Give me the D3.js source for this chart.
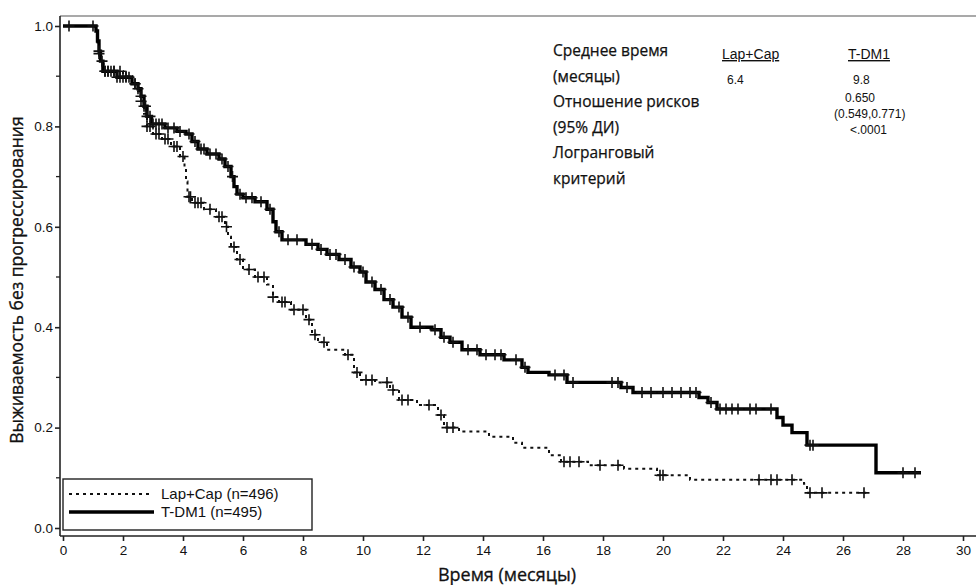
<!DOCTYPE html>
<html>
<head>
<meta charset="utf-8">
<script src="https://cdn.jsdelivr.net/npm/d3@7"></script>
<style>
  body { margin: 0; background: #fff; }
  text { fill: #111; }
</style>
</head>
<body>
<div id="chart"></div>
<script>
// Kaplan-Meier step data: [time (months), survival after the drop]
var tdm1Steps = [
  [0, 1.0], [1.1, 0.99], [1.15, 0.97], [1.2, 0.95], [1.25, 0.93], [1.33, 0.91],
  [1.8, 0.898], [2.3, 0.885], [2.5, 0.875], [2.6, 0.86], [2.7, 0.84], [2.8, 0.82],
  [2.95, 0.805], [3.4, 0.797], [3.8, 0.79], [4.1, 0.785], [4.3, 0.77], [4.5, 0.755],
  [4.8, 0.745], [5.2, 0.735], [5.4, 0.72], [5.6, 0.70], [5.7, 0.68], [5.8, 0.665],
  [6.0, 0.658], [6.4, 0.65], [6.8, 0.635], [7.0, 0.61], [7.1, 0.59], [7.3, 0.574],
  [8.1, 0.565], [8.5, 0.555], [8.8, 0.545], [9.2, 0.535], [9.6, 0.52], [9.9, 0.51],
  [10.1, 0.49], [10.4, 0.475], [10.7, 0.455], [11.0, 0.44], [11.3, 0.42], [11.6, 0.40],
  [12.3, 0.395], [12.6, 0.38], [12.9, 0.37], [13.3, 0.355], [13.9, 0.345], [14.7, 0.335],
  [15.3, 0.32], [15.5, 0.31], [16.2, 0.305], [16.8, 0.29], [18.6, 0.28], [19.0, 0.27],
  [21.2, 0.26], [21.5, 0.25], [21.8, 0.237], [23.8, 0.22], [24.0, 0.205], [24.3, 0.19],
  [24.8, 0.165], [27.1, 0.11]
];
var tdm1End = 28.6;
var tdm1Censor = [
  0.2, 1.0, 1.2, 1.3, 1.4, 1.5, 1.6, 1.7, 1.8, 1.9, 2.0, 2.1, 2.2, 2.4, 2.5, 2.6, 2.7,
  2.75, 2.8, 2.9, 3.0, 3.1, 3.2, 3.3, 3.5, 3.7, 3.9, 4.2, 4.4, 4.6, 4.7, 4.9, 5.1, 5.3,
  5.5, 5.65, 5.9, 6.1, 6.3, 6.6, 6.9, 7.2, 7.5, 7.8, 8.3, 8.6, 8.9, 9.1, 9.4, 9.7, 10.0,
  10.3, 10.6, 10.9, 11.2, 11.5, 11.9, 12.4, 12.7, 13.0, 13.5, 13.8, 14.1, 14.4, 14.6,
  15.1, 15.4, 16.4, 16.7, 17.0, 18.3, 18.5, 18.8, 19.3, 19.6, 20.0, 20.3, 20.6, 20.9,
  21.1, 21.6, 21.9, 22.1, 22.3, 22.5, 22.9, 23.1, 23.6, 24.9, 25.0, 28.0, 28.4
];

var lapSteps = [
  [0, 1.0], [1.1, 0.99], [1.15, 0.965], [1.2, 0.945], [1.25, 0.925], [1.35, 0.91],
  [2.0, 0.9], [2.3, 0.885], [2.5, 0.87], [2.6, 0.85], [2.7, 0.825], [2.8, 0.8],
  [3.0, 0.785], [3.3, 0.775], [3.6, 0.76], [3.9, 0.74], [4.05, 0.72], [4.1, 0.69],
  [4.15, 0.66], [4.3, 0.648], [4.7, 0.635], [5.1, 0.62], [5.4, 0.60], [5.5, 0.58],
  [5.6, 0.56], [5.8, 0.535], [6.0, 0.515], [6.4, 0.5], [6.8, 0.485], [7.0, 0.46],
  [7.2, 0.45], [7.6, 0.435], [8.1, 0.415], [8.3, 0.385], [8.5, 0.37], [8.8, 0.355],
  [9.4, 0.345], [9.7, 0.31], [9.9, 0.295], [10.4, 0.29], [10.9, 0.275], [11.2, 0.255],
  [11.8, 0.245], [12.5, 0.225], [12.7, 0.2], [13.2, 0.192], [14.2, 0.182], [15.0, 0.17],
  [15.3, 0.16], [16.2, 0.145], [16.6, 0.132], [17.5, 0.125], [18.7, 0.118], [19.8, 0.105],
  [20.9, 0.096], [24.7, 0.088], [24.8, 0.07]
];
var lapEnd = 26.8;
var lapCensor = [
  1.2, 1.4, 1.5, 1.7, 1.9, 2.1, 2.4, 2.6, 2.8, 2.9, 3.1, 3.2, 3.4, 3.5, 3.7, 3.8, 4.0,
  4.2, 4.25, 4.4, 4.5, 4.6, 4.9, 5.2, 5.3, 5.45, 5.7, 5.9, 6.2, 6.5, 6.7, 7.0, 7.3,
  7.4, 7.7, 8.0, 8.2, 8.4, 8.7, 9.5, 9.8, 10.1, 10.3, 10.8, 11.0, 11.3, 11.5, 12.2,
  12.6, 12.8, 13.0, 16.7, 16.9, 17.2, 17.9, 18.5, 19.9, 20.0, 23.2, 23.6, 23.8, 24.3,
  24.9, 25.3, 26.7
];

var xTicks = d3.range(0, 31, 2);
var yTicks = [0, 0.2, 0.4, 0.6, 0.8, 1.0];
var yMinorTicks = [0.1, 0.3, 0.5, 0.7, 0.9];

var legendLabels = ["Lap+Cap (n=496)", "T-DM1 (n=495)"];
var statRows = ["Среднее время", "(месяцы)", "Отношение рисков", "(95% ДИ)", "Логранговый", "критерий"];
var statHeads = ["Lap+Cap", "T-DM1"];
var lapStats = ["6.4"];
var tdm1Stats = ["9.8", "0.650", "(0.549,0.771)", "<.0001"];

var W = 976, H = 585;
var svg = d3.select("#chart").append("svg")
  .attr("width", W).attr("height", H)
  .style("font-family", "'Liberation Sans', Arial, sans-serif");

var x = d3.scaleLinear().domain([0, 30]).range([63, 963]);
var y = d3.scaleLinear().domain([0, 1]).range([528, 26]);
var axisY = 536, axisX = 60;

// frame top line
svg.append("line")
  .attr("x1", axisX).attr("x2", W).attr("y1", 16).attr("y2", 16)
  .attr("stroke", "#555").attr("stroke-width", 1.2);

// x axis
var xAxis = svg.append("g").attr("transform", "translate(0," + axisY + ")")
  .call(d3.axisBottom(x).tickValues(xTicks).tickSize(5).tickFormat(d3.format("d")));
xAxis.select(".domain").attr("d", "M" + axisX + ",0H" + W).attr("stroke", "#222").attr("stroke-width", 1.6);
xAxis.selectAll(".tick line").attr("stroke", "#222").attr("stroke-width", 1.6);
xAxis.selectAll(".tick text").attr("font-size", 13.5).attr("dy", "0.85em").attr("fill", "#111");

// y axis
var yAxis = svg.append("g").attr("transform", "translate(" + axisX + ",0)")
  .call(d3.axisLeft(y).tickValues(yTicks).tickSize(5).tickFormat(d3.format(".1f")));
yAxis.select(".domain").attr("d", "M0,16V" + axisY).attr("stroke", "#222").attr("stroke-width", 1.6);
yAxis.selectAll(".tick line").attr("stroke", "#222").attr("stroke-width", 1.6);
yAxis.selectAll(".tick text").attr("font-size", 13.5).attr("x", -7).attr("fill", "#111");
yAxis.selectAll(".minor").data(yMinorTicks).enter().append("line")
  .attr("x1", -4).attr("x2", 0)
  .attr("y1", function(d) { return y(d); }).attr("y2", function(d) { return y(d); })
  .attr("stroke", "#222").attr("stroke-width", 1.3);

// axis titles
svg.append("text").attr("x", 507).attr("y", 581).attr("text-anchor", "middle")
  .attr("font-family", "'Open Sans', sans-serif").attr("font-size", 18)
  .attr("stroke", "#111").attr("stroke-width", 0.3)
  .text("Время (месяцы)");
svg.append("text").attr("transform", "translate(23,280) rotate(-90)").attr("text-anchor", "middle")
  .attr("font-family", "'Open Sans', sans-serif").attr("font-size", 17.5)
  .attr("stroke", "#111").attr("stroke-width", 0.3)
  .text("Выживаемость без прогрессирования");

// curves
var line = d3.line()
  .x(function(d) { return x(d[0]); })
  .y(function(d) { return y(d[1]); })
  .curve(d3.curveStepAfter);

function withEnd(steps, end) {
  return steps.concat([[end, steps[steps.length - 1][1]]]);
}
function survAt(steps, t) {
  var i = d3.bisector(function(d) { return d[0]; }).right(steps, t) - 1;
  return steps[Math.max(i, 0)][1];
}

svg.append("path").datum(withEnd(lapSteps, lapEnd))
  .attr("d", line).attr("fill", "none")
  .attr("stroke", "#111").attr("stroke-width", 2).attr("stroke-dasharray", "3,4");

svg.append("path").datum(withEnd(tdm1Steps, tdm1End))
  .attr("d", line).attr("fill", "none")
  .attr("stroke", "#000").attr("stroke-width", 3.4);

function drawCensor(times, steps, cls) {
  var g = svg.append("g").attr("class", cls);
  g.selectAll("path").data(times).enter().append("path")
    .attr("d", function(d) {
      var cx = x(d), cy = y(survAt(steps, d));
      return "M" + (cx - 5.5) + "," + cy + "H" + (cx + 5.5) + "M" + cx + "," + (cy - 5.5) + "V" + (cy + 5.5);
    })
    .attr("stroke", "#111").attr("stroke-width", 1.6).attr("fill", "none");
}
drawCensor(lapCensor, lapSteps, "lap-censor");
drawCensor(tdm1Censor, tdm1Steps, "tdm1-censor");

// legend
var lg = svg.append("g");
lg.append("rect").attr("x", 63).attr("y", 479).attr("width", 249).attr("height", 51)
  .attr("fill", "#fff").attr("stroke", "#222").attr("stroke-width", 1.4);
lg.append("line").attr("x1", 69).attr("x2", 153).attr("y1", 494).attr("y2", 494)
  .attr("stroke", "#111").attr("stroke-width", 2).attr("stroke-dasharray", "3,4");
lg.append("line").attr("x1", 69).attr("x2", 154).attr("y1", 512).attr("y2", 512)
  .attr("stroke", "#000").attr("stroke-width", 3.4);
lg.selectAll("text").data(legendLabels).enter().append("text")
  .attr("x", 161).attr("y", function(d, i) { return 499 + i * 18; })
  .attr("font-size", 15)
  .text(function(d) { return d; });

// statistics block
var st = svg.append("g").attr("font-family", "'Open Sans', sans-serif").attr("font-size", 15.5)
  .attr("stroke", "#111").attr("stroke-width", 0.25);
st.selectAll("text").data(statRows).enter().append("text")
  .attr("x", 553).attr("y", function(d, i) { return 56 + i * 25.6; })
  .text(function(d) { return d; });

var heads = svg.append("g").attr("font-size", 14);
heads.selectAll("text").data(statHeads).enter().append("text")
  .attr("x", function(d, i) { return [722, 848][i]; }).attr("y", 59)
  .attr("text-decoration", "underline")
  .text(function(d) { return d; });
var vals = svg.append("g").attr("font-size", 12);
vals.append("text").attr("x", 727).attr("y", 84).text(lapStats[0]);
vals.selectAll(".tv").data(tdm1Stats).enter().append("text").attr("class", "tv")
  .attr("x", function(d, i) { return [853, 845, 834, 850][i]; })
  .attr("y", function(d, i) { return [84, 102, 118, 134][i]; })
  .text(function(d) { return d; });
</script>
</body>
</html>
